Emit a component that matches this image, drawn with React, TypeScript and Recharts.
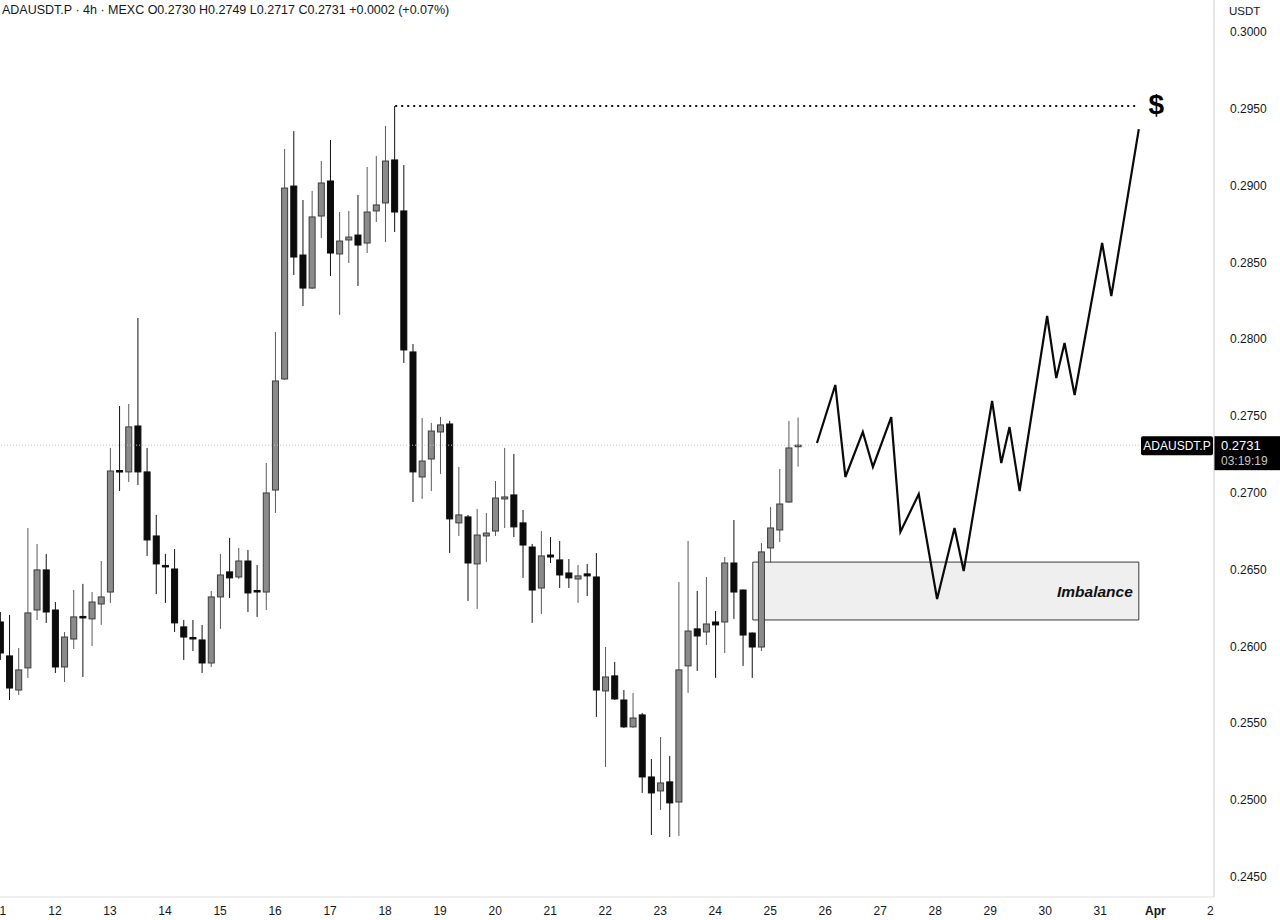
import React from 'react';
import {
  ComposedChart,
  XAxis,
  YAxis,
  Bar,
  Line,
  ReferenceLine,
  ReferenceArea,
  ReferenceDot,
} from 'recharts';

// 4h candles, index 0 = Mar 11 00:00
const opens = [
  0.26159, 0.25938, 0.25716, 0.2586, 0.26237, 0.26498, 0.26237, 0.25866, 0.26048, 0.26195,
  0.26179, 0.26276, 0.26354, 0.27145, 0.27136, 0.27435, 0.27136, 0.26719, 0.26527, 0.26504,
  0.26127, 0.26058, 0.26042, 0.25892, 0.26322, 0.26485, 0.26452, 0.26556, 0.26364, 0.26354,
  0.27018, 0.27741, 0.28997, 0.28548, 0.28333, 0.28802, 0.2903, 0.28555, 0.28646, 0.28678,
  0.28626, 0.28835, 0.28887, 0.29167, 0.28835, 0.27917, 0.27103, 0.2722, 0.27396, 0.27448,
  0.26804, 0.26843, 0.26537, 0.26719, 0.26751, 0.2696, 0.26986, 0.26804, 0.26647, 0.2638,
  0.26595, 0.26563, 0.26478, 0.26439, 0.26472, 0.26452, 0.2571, 0.25808, 0.25651, 0.25476,
  0.25554, 0.2515, 0.25059, 0.25118, 0.24987, 0.25873, 0.26114, 0.26094, 0.26159, 0.26159,
  0.26543, 0.26367, 0.26087, 0.25996, 0.26641, 0.26758, 0.2694, 0.273,
];
const highs = [
  0.26224, 0.26205, 0.2599, 0.26771, 0.26667, 0.26602, 0.26289, 0.26094, 0.26367, 0.26407,
  0.26354, 0.26556, 0.27292, 0.27565, 0.27578, 0.28138, 0.27292, 0.26856, 0.26602, 0.26634,
  0.26172, 0.26172, 0.2614, 0.26361, 0.26602, 0.26706, 0.26641, 0.26628, 0.2653, 0.27194,
  0.28047, 0.29238, 0.29355, 0.28906, 0.28965, 0.2916, 0.29297, 0.28828, 0.28835, 0.28939,
  0.29121, 0.29193, 0.29388, 0.29518, 0.29134, 0.27969, 0.27487, 0.27455, 0.27494, 0.27468,
  0.27168, 0.26856, 0.26895, 0.26869, 0.27077, 0.27292, 0.27253, 0.26888, 0.26667, 0.26751,
  0.26712, 0.26686, 0.26569, 0.2653, 0.26537, 0.26608, 0.25996, 0.25899, 0.25716, 0.25697,
  0.25567, 0.25267, 0.2541, 0.25287, 0.2642, 0.26686, 0.26361, 0.26452, 0.26231, 0.26582,
  0.26823, 0.2637, 0.2609, 0.26673, 0.26908, 0.27155, 0.27468, 0.2749,
];
const lows = [
  0.25912, 0.25651, 0.25684, 0.25795, 0.26172, 0.26153, 0.25827, 0.25768, 0.25983, 0.25801,
  0.26003, 0.2614, 0.26283, 0.27012, 0.2707, 0.27051, 0.26589, 0.26341, 0.26283, 0.26094,
  0.25912, 0.2597, 0.25827, 0.25866, 0.26114, 0.26315, 0.26439, 0.26224, 0.26192, 0.26237,
  0.26869, 0.27735, 0.28418, 0.28216, 0.28327, 0.28659, 0.28412, 0.28158, 0.28496, 0.28346,
  0.28561, 0.28763, 0.28633, 0.28698, 0.27845, 0.2694, 0.2696, 0.27012, 0.27123, 0.26608,
  0.26719, 0.26296, 0.26244, 0.2655, 0.26719, 0.26771, 0.26712, 0.26446, 0.26153, 0.26211,
  0.26543, 0.2638, 0.2638, 0.26283, 0.26328, 0.25541, 0.25215, 0.25651, 0.25469, 0.2547,
  0.25046, 0.24772, 0.24935, 0.24759, 0.24766, 0.25697, 0.2584, 0.26009, 0.25795, 0.25957,
  0.26179, 0.25873, 0.25795, 0.2597, 0.26543, 0.2668, 0.26935, 0.2717,
];
const closes = [
  0.25957, 0.25729, 0.25847, 0.26218, 0.26498, 0.26224, 0.25866, 0.26061, 0.26192, 0.2619,
  0.26289, 0.26322, 0.27142, 0.27138, 0.27429, 0.27136, 0.26693, 0.26537, 0.26521, 0.26153,
  0.26061, 0.26052, 0.25892, 0.26322, 0.26465, 0.26446, 0.26556, 0.26348, 0.26358, 0.26999,
  0.27728, 0.28984, 0.28535, 0.28333, 0.28796, 0.29017, 0.28561, 0.28639, 0.28665, 0.28613,
  0.28828, 0.28874, 0.2916, 0.28828, 0.2793, 0.27136, 0.27207, 0.27402, 0.27442, 0.2683,
  0.26856, 0.26543, 0.26725, 0.26738, 0.26966, 0.26973, 0.26778, 0.2666, 0.26367, 0.26589,
  0.26582, 0.26465, 0.26446, 0.26459, 0.26459, 0.25716, 0.25801, 0.25658, 0.25476, 0.25534,
  0.2515, 0.25046, 0.25111, 0.24981, 0.25847, 0.261, 0.26068, 0.26146, 0.2614, 0.26543,
  0.26354, 0.26074, 0.25996, 0.26615, 0.26771, 0.26927, 0.27292, 0.2731,
];

// hand-drawn projection (x in candle index units)
const projIndex = [
  89.1, 91.1, 92.2, 94.1, 95.2, 97.2, 98.2, 100.2, 102.2, 104.1, 105.1,
  108.2, 109.2, 110.1, 111.2, 114.2, 115.2, 116.1, 117.2, 120.2, 121.2, 124.2,
];
const projPrice = [
  0.27324, 0.27702, 0.27103, 0.27396, 0.27168, 0.27493, 0.26745, 0.26992, 0.26309, 0.26771, 0.26491,
  0.27598, 0.27194, 0.27428, 0.27012, 0.28151, 0.27747, 0.27975, 0.27637, 0.28626, 0.28281, 0.29368,
];

const dayLabels = [
  '11', '12', '13', '14', '15', '16', '17', '18', '19', '20', '21', '22',
  '23', '24', '25', '26', '27', '28', '29', '30', '31', 'Apr', '2',
];
const priceTicks = [
  0.245, 0.25, 0.255, 0.26, 0.265, 0.27, 0.275, 0.28, 0.285, 0.29, 0.295, 0.3,
];

const lastPrice = 0.2731;
const targetPrice = 0.29518;
const imbalanceLow = 0.26172;
const imbalanceHigh = 0.26549;

const candles = opens.map((o, i) => ({ i, o, h: highs[i], l: lows[i], c: closes[i] }));
const projection = projIndex.map((i, k) => ({ i, p: projPrice[k] }));
const dayTicks = dayLabels.map((_, k) => k * 6);

const FONT = '"Liberation Sans", Arial, sans-serif';

const Candle = (props: any) => {
  const { x, y, width, height, payload } = props;
  const { o, h, l, c } = payload;
  const k = height / (h - l);
  const yo = y + (h - o) * k;
  const yc = y + (h - c) * k;
  const top = Math.min(yo, yc);
  const bh = Math.max(Math.abs(yo - yc), 1.5);
  const cx = x + width / 2;
  const up = c >= o;
  return (
    <g>
      <line x1={cx} x2={cx} y1={y} y2={y + height} stroke={up ? '#5a5a5a' : '#111'} strokeWidth={1} />
      <rect
        x={x + 0.5}
        y={top}
        width={width - 1}
        height={bh}
        fill={up ? '#8b8b8b' : '#0c0c0c'}
        stroke={up ? '#3c3c3c' : '#0c0c0c'}
        strokeWidth={1}
      />
    </g>
  );
};

const DayTick = (props: any) => {
  const { x, y, payload } = props;
  const label = dayLabels[Math.round(payload.value / 6)];
  return (
    <text
      x={x}
      y={y}
      dy={10}
      textAnchor="middle"
      fontSize={12}
      fontFamily={FONT}
      fontWeight={label === 'Apr' ? 700 : 400}
      fill="#131722"
    >
      {label}
    </text>
  );
};

const PriceTag = (props: any) => {
  const { viewBox } = props;
  const right = viewBox.x + viewBox.width;
  const y = viewBox.y;
  return (
    <g fontFamily={FONT}>
      <rect x={right - 73} y={y - 9} width={72} height={19} rx={2} fill="#000" />
      <text x={right - 37} y={y + 5} textAnchor="middle" fontSize={12} fill="#fff">
        ADAUSDT.P
      </text>
      <rect x={right} y={y - 9} width={66} height={34} fill="#000" />
      <text x={right + 7} y={y + 5} fontSize={13} fill="#fff">
        {lastPrice.toFixed(4)}
      </text>
      <text x={right + 7} y={y + 20} fontSize={12} fill="#c8c8c8">
        03:19:19
      </text>
    </g>
  );
};

const Dollar = (props: any) => (
  <text
    x={props.cx}
    y={props.cy + 10}
    textAnchor="middle"
    fontSize={28}
    fontWeight={700}
    fontFamily={FONT}
    fill="#000"
  >
    $
  </text>
);

export default function App() {
  return (
    <div style={{ position: 'relative', width: 1280, height: 920, background: '#fff' }}>
      <style>{'body{margin:0}'}</style>
      <div
        style={{
          position: 'absolute',
          left: 2,
          top: 3,
          fontFamily: FONT,
          fontSize: 12.5,
          color: '#131722',
          whiteSpace: 'pre',
          zIndex: 2,
        }}
      >
        {'ADAUSDT.P · 4h · MEXC O0.2730 H0.2749 L0.2717 C0.2731 +0.0002 (+0.07%)'}
      </div>
      <div
        style={{
          position: 'absolute',
          left: 1229,
          top: 5,
          fontFamily: FONT,
          fontSize: 11.5,
          color: '#131722',
          zIndex: 2,
        }}
      >
        USDT
      </div>
      <ComposedChart
        width={1280}
        height={920}
        data={candles}
        margin={{ top: 0, right: 0, bottom: 0, left: 0 }}
      >
        <XAxis
          dataKey="i"
          type="number"
          domain={[0, 132.4]}
          allowDataOverflow
          ticks={dayTicks}
          interval={0}
          tick={<DayTick />}
          tickLine={false}
          axisLine={{ stroke: '#e0e0e0' }}
          height={23}
        />
        <YAxis
          orientation="right"
          type="number"
          domain={[0.243685, 0.302083]}
          allowDataOverflow
          ticks={priceTicks}
          interval={0}
          tickFormatter={(v: number) => v.toFixed(4)}
          tick={{ fontSize: 12, fill: '#131722', fontFamily: FONT }}
          tickLine={false}
          tickMargin={10}
          axisLine={{ stroke: '#cfcfcf' }}
          width={66}
        />
        <ReferenceLine
          y={lastPrice}
          stroke="#c4c4c4"
          strokeDasharray="1 2"
          label={<PriceTag />}
        />
        <ReferenceArea
          x1={82.1}
          x2={124.2}
          y1={imbalanceLow}
          y2={imbalanceHigh}
          fill="#efefef"
          fillOpacity={1}
          stroke="#3a3a3a"
          strokeWidth={1}
          label={{
            value: 'Imbalance',
            position: 'insideRight',
            offset: 6,
            fontSize: 15.5,
            fontWeight: 700,
            fontStyle: 'italic',
            fontFamily: FONT,
            fill: '#111',
          }}
        />
        <ReferenceLine
          segment={[
            { x: 43.1, y: targetPrice },
            { x: 123.8, y: targetPrice },
          ]}
          stroke="#111"
          strokeWidth={2}
          strokeDasharray="2 4"
        />
        <Bar
          dataKey={(d: any) => [d.l, d.h]}
          barSize={7}
          shape={<Candle />}
          isAnimationActive={false}
        />
        <Line
          data={projection}
          dataKey="p"
          stroke="#0a0a0a"
          strokeWidth={2.2}
          strokeLinejoin="miter"
          dot={false}
          activeDot={false}
          isAnimationActive={false}
        />
        <ReferenceDot x={126.1} y={0.2953} r={0} shape={<Dollar />} />
      </ComposedChart>
    </div>
  );
}
